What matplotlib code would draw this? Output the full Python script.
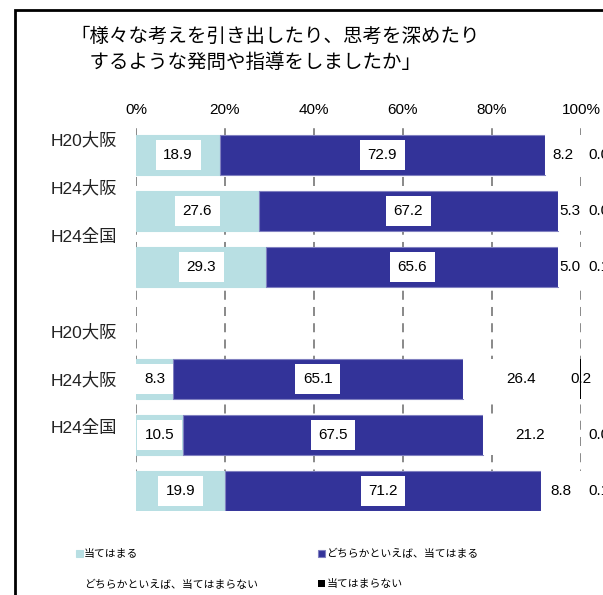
import matplotlib
matplotlib.use('Agg')
import matplotlib.pyplot as plt
from matplotlib.patches import Rectangle
import numpy as np

plt.rcParams['font.family'] = ['Liberation Sans', 'Noto Sans CJK JP', 'DejaVu Sans']

# Data (percent), one row per bar, top to bottom; None = empty slot
row_labels = ['H20大阪', 'H24大阪', 'H24全国', 'H20大阪', 'H24大阪', 'H24全国']
atehamaru = [18.9, 27.6, 29.3, None, 8.3, 10.5, 19.9]
dochiraka_atehamaru = [72.9, 67.2, 65.6, None, 65.1, 67.5, 71.2]
dochiraka_atehamaranai = [8.2, 5.3, 5.0, None, 26.4, 21.2, 8.8]
atehamaranai = [0.0, 0.0, 0.1, None, 0.2, 0.0, 0.1]
series_names = ['当てはまる', 'どちらかといえば、当てはまる',
                'どちらかといえば、当てはまらない', '当てはまらない']
ticks = [0, 20, 40, 60, 80, 100]
tick_labels = ['0%', '20%', '40%', '60%', '80%', '100%']

title = '「様々な考えを引き出したり、思考を深めたり\n\u3000するような発問や指導をしましたか」'

# positions of the category texts (they sit between the bars in the original)
label_y = [-0.27, 0.59, 1.46, 3.16, 4.02, 4.875]

colors = ['#B8DFE3', '#333399', '#FFFFFF', '#000000']
edges = ['#B8DFE3', '#8080C0', '#FFFFFF', '#000000']
edge_w = [0.8, 0.8, 0, 0]

W, H = 603, 595
fig = plt.figure(figsize=(W / 100, H / 100), dpi=100)
ax = fig.add_axes([136 / W, 1 - 511 / H, 445 / W, (511 - 128) / H])

series = [atehamaru, dochiraka_atehamaru, dochiraka_atehamaranai, atehamaranai]
idx = [i for i, v in enumerate(atehamaru) if v is not None]
y = np.array(idx, dtype=float)
left = np.zeros(len(idx))
handles = []
for k, s in enumerate(series):
    vals = np.array([s[i] for i in idx])
    b = ax.barh(y, vals, left=left, height=0.71, color=colors[k],
                edgecolor=edges[k], linewidth=edge_w[k], zorder=5 if k == 3 else 2)
    handles.append(b)
    for yy, l, v in zip(y, left, vals):
        c = l + v / 2
        if k < 2:
            ax.text(c, yy, f'{v:.1f}', ha='center', va='center', fontsize=11,
                    zorder=4,
                    bbox=dict(boxstyle='square,pad=0.5', fc='white', ec='none'))
        elif k == 2:
            ax.text(c, yy, f'{v:.1f}', ha='center', va='center', fontsize=11, zorder=4)
        else:
            if v >= 0.2:
                ax.text(100, yy, f'{v:.1f}', ha='center', va='center', fontsize=11,
                        zorder=4)
            else:
                ax.text(101.6, yy, f'{v:.1f}', ha='left', va='center', fontsize=11,
                        zorder=4, clip_on=False)
    left = left + vals

for t in ticks:
    ax.axvline(t, color='#808080', lw=1.3, ls=(0, (5, 4)), zorder=1)

ax.set_xlim(0, 100)
ax.set_ylim((511 - 155) / 56, (128 - 155) / 56)
ax.xaxis.tick_top()
ax.set_xticks(ticks)
ax.set_xticklabels(tick_labels, fontsize=11)
ax.tick_params(axis='x', length=0, pad=8)
ax.set_yticks([])
for sp in ax.spines.values():
    sp.set_visible(False)

for lab, ly in zip(row_labels, label_y):
    ax.text(-4.3, ly, lab, ha='right', va='center', fontsize=12.5,
            color='#222222', clip_on=False)

fig.text(70 / W, 1 - 26 / H, title, ha='left', va='top', fontsize=14,
         linespacing=1.3, family=['Noto Sans CJK JP', 'DejaVu Sans'])

leg = fig.legend([handles[0], handles[2], handles[1], handles[3]],
                 [series_names[0], series_names[2], series_names[1], series_names[3]],
                 ncol=2, loc='upper left', bbox_to_anchor=(76 / W, 1 - 549 / H),
                 frameon=False, handlelength=0.6, handleheight=0.6,
                 handletextpad=0.15, columnspacing=5.55, labelspacing=1.85,
                 borderaxespad=0, borderpad=0,
                 prop={'family': ['Noto Sans CJK JP', 'DejaVu Sans'], 'size': 7.8})

fig.patches.append(Rectangle((14.5 / W, -0.2), 2, 1 - 9.5 / H + 0.2,
                             transform=fig.transFigure, fill=False,
                             ec='black', lw=2, zorder=0))

fig.savefig('out.png', dpi=100)
